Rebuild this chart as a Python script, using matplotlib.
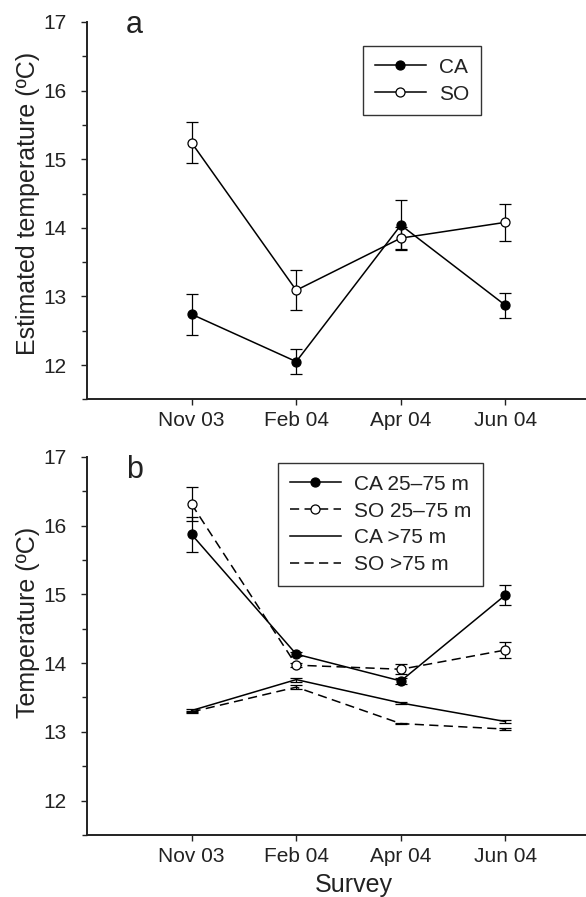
import matplotlib.pyplot as plt
from matplotlib.ticker import MultipleLocator

plt.rcParams['font.family'] = ['Liberation Sans', 'DejaVu Sans']

surveys = ['Nov 03', 'Feb 04', 'Apr 04', 'Jun 04']
x = [1, 2, 3, 4]

# panel a: estimated temperature
ca_est = [12.74, 12.05, 14.04, 12.87]
ca_est_err = [0.30, 0.18, 0.36, 0.18]
so_est = [15.24, 13.09, 13.85, 14.08]
so_est_err = [0.30, 0.29, 0.16, 0.27]

# panel b: measured temperature by depth
ca_25_75 = [15.87, 14.13, 13.74, 14.99]
ca_25_75_err = [0.25, 0.03, 0.04, 0.14]
so_25_75 = [16.31, 13.97, 13.91, 14.19]
so_25_75_err = [0.25, 0.03, 0.07, 0.12]
ca_75 = [13.31, 13.76, 13.42, 13.15]
ca_75_err = [0.02, 0.03, 0.01, 0.02]
so_75 = [13.29, 13.65, 13.12, 13.04]
so_75_err = [0.02, 0.03, 0.01, 0.02]

txt = '#222222'
lw = 1.1
ms = 6.5
dash = (6, 3.5)

fig = plt.figure(figsize=(5.86, 8.97), dpi=100)
ax1 = fig.add_axes([87/586, 0.5548, 1 - 87/586, 0.4207])
ax2 = fig.add_axes([87/586, 0.0691, 1 - 87/586, 0.4217])


def style(ax):
    ax.set_xlim(0, 4.77)
    ax.set_ylim(11.5, 17)
    ax.set_xticks(x)
    ax.set_xticklabels(surveys)
    ax.set_yticks([12, 13, 14, 15, 16, 17])
    ax.yaxis.set_minor_locator(MultipleLocator(0.5))
    for s in ['top', 'right']:
        ax.spines[s].set_visible(False)
    for s in ['left', 'bottom']:
        ax.spines[s].set_linewidth(1.4)
        ax.spines[s].set_color('#222222')
    ax.tick_params(axis='both', which='major', labelsize=15, colors=txt,
                   length=4.5, width=1)
    ax.tick_params(axis='y', which='major', pad=10)
    ax.tick_params(axis='x', which='major', pad=4)
    ax.tick_params(axis='y', which='minor', length=3.5, width=1, colors=txt)


def series(ax, y, err, filled=True, ls='-', label=None):
    # error bars first, then the line with markers (used for the legend)
    ax.errorbar(x, y, yerr=err, fmt='none', ecolor='black', elinewidth=0.9,
                capsize=4, capthick=0.9)
    kw = dict(color='black', lw=lw, label=label)
    if filled is None:
        kw.update(marker='')
    else:
        kw.update(marker='o', ms=ms, mec='black',
                  mfc='black' if filled else 'white', mew=0.9)
    line, = ax.plot(x, y, **kw)
    if ls != '-':
        line.set_dashes(dash)
    return line


def legend(ax, anchor):
    leg = ax.legend(loc='upper left', bbox_to_anchor=anchor, borderaxespad=0,
                    fontsize=15, frameon=True, fancybox=False, edgecolor='black',
                    handlelength=2.45, handletextpad=0.65, labelspacing=0.38,
                    borderpad=0.55)
    leg.get_frame().set_linewidth(1)
    for t in leg.get_texts():
        t.set_color(txt)


# panel a
style(ax1)
series(ax1, ca_est, ca_est_err, True, label='CA')
series(ax1, so_est, so_est_err, False, label='SO')
ax1.set_ylabel('Estimated temperature (ºC)', fontsize=18, color=txt, va='center')
ax1.yaxis.set_label_coords(-0.118, 0.519)
ax1.text(0.45, 16.84, 'a', fontsize=22, color=txt, ha='center', va='baseline')
legend(ax1, (0.554, 0.936))

# panel b
style(ax2)
series(ax2, ca_25_75, ca_25_75_err, True, label='CA 25–75 m')
series(ax2, so_25_75, so_25_75_err, False, ls='--', label='SO 25–75 m')
series(ax2, ca_75, ca_75_err, None, label='CA >75 m')
series(ax2, so_75, so_75_err, None, ls='--', label='SO >75 m')
ax2.set_ylabel('Temperature (ºC)', fontsize=18, color=txt, va='center')
ax2.yaxis.set_label_coords(-0.118, 0.562)
ax2.set_xlabel('Survey', fontsize=18, color=txt, va='center')
ax2.xaxis.set_label_coords(0.535, -0.132)
ax2.text(0.45, 16.69, 'b', fontsize=22, color=txt, ha='center', va='baseline')
legend(ax2, (0.383, 0.983))

fig.savefig('out.png', dpi=100)
